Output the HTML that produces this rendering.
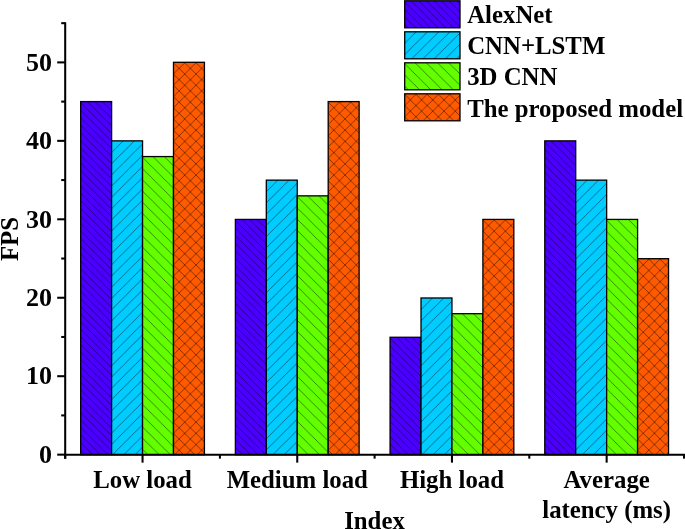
<!DOCTYPE html><html><head><meta charset="utf-8"><style>html,body{margin:0;padding:0;background:#fff;overflow:hidden}svg{display:block;will-change:transform}</style></head><body>
<svg width="685" height="529" viewBox="0 0 685 529">
<defs>
<pattern id="p1" patternUnits="userSpaceOnUse" width="7.555" height="7.555" x="80.67" y="102.58"><rect width="7.555" height="7.555" fill="#4B00FF"/><path d="M-3.7775,-3.7775 L11.3325,11.3325 M-3.7775,3.7775 L3.7775,11.3325 M3.7775,-3.7775 L11.3325,3.7775" stroke="#000" stroke-opacity="0.55" stroke-width="0.85" fill="none"/></pattern>
<pattern id="p2" patternUnits="userSpaceOnUse" width="11.23" height="11.23" x="111.61" y="141.16"><rect width="11.23" height="11.23" fill="#00CCFF"/><path d="M16.845,-5.615 L-5.615,16.845 M5.615,-5.615 L-5.615,5.615 M16.845,5.615 L5.615,16.845" stroke="#000" stroke-opacity="0.55" stroke-width="0.85" fill="none"/></pattern>
<pattern id="p3" patternUnits="userSpaceOnUse" width="11.23" height="11.23" x="142.55" y="157.42"><rect width="11.23" height="11.23" fill="#63FF00"/><path d="M-5.615,-5.615 L16.845,16.845 M-5.615,5.615 L5.615,16.845 M5.615,-5.615 L16.845,5.615" stroke="#000" stroke-opacity="0.55" stroke-width="0.85" fill="none"/></pattern>
<pattern id="p4" patternUnits="userSpaceOnUse" width="11.23" height="11.23" x="173.49" y="62.80"><rect width="11.23" height="11.23" fill="#FF5A00"/><path d="M-5.615,-5.615 L16.845,16.845 M-5.615,5.615 L5.615,16.845 M5.615,-5.615 L16.845,5.615" stroke="#000" stroke-opacity="0.55" stroke-width="0.85" fill="none"/><path d="M16.845,-5.615 L-5.615,16.845 M5.615,-5.615 L-5.615,5.615 M16.845,5.615 L5.615,16.845" stroke="#000" stroke-opacity="0.55" stroke-width="0.85" fill="none"/></pattern>
<pattern id="p5" patternUnits="userSpaceOnUse" width="7.555" height="7.555" x="235.37" y="220.42"><rect width="7.555" height="7.555" fill="#4B00FF"/><path d="M-3.7775,-3.7775 L11.3325,11.3325 M-3.7775,3.7775 L3.7775,11.3325 M3.7775,-3.7775 L11.3325,3.7775" stroke="#000" stroke-opacity="0.55" stroke-width="0.85" fill="none"/></pattern>
<pattern id="p6" patternUnits="userSpaceOnUse" width="11.23" height="11.23" x="266.31" y="180.44"><rect width="11.23" height="11.23" fill="#00CCFF"/><path d="M16.845,-5.615 L-5.615,16.845 M5.615,-5.615 L-5.615,5.615 M16.845,5.615 L5.615,16.845" stroke="#000" stroke-opacity="0.55" stroke-width="0.85" fill="none"/></pattern>
<pattern id="p7" patternUnits="userSpaceOnUse" width="11.23" height="11.23" x="297.25" y="196.70"><rect width="11.23" height="11.23" fill="#63FF00"/><path d="M-5.615,-5.615 L16.845,16.845 M-5.615,5.615 L5.615,16.845 M5.615,-5.615 L16.845,5.615" stroke="#000" stroke-opacity="0.55" stroke-width="0.85" fill="none"/></pattern>
<pattern id="p8" patternUnits="userSpaceOnUse" width="11.23" height="11.23" x="328.19" y="102.08"><rect width="11.23" height="11.23" fill="#FF5A00"/><path d="M-5.615,-5.615 L16.845,16.845 M-5.615,5.615 L5.615,16.845 M5.615,-5.615 L16.845,5.615" stroke="#000" stroke-opacity="0.55" stroke-width="0.85" fill="none"/><path d="M16.845,-5.615 L-5.615,16.845 M5.615,-5.615 L-5.615,5.615 M16.845,5.615 L5.615,16.845" stroke="#000" stroke-opacity="0.55" stroke-width="0.85" fill="none"/></pattern>
<pattern id="p9" patternUnits="userSpaceOnUse" width="7.555" height="7.555" x="390.07" y="338.26"><rect width="7.555" height="7.555" fill="#4B00FF"/><path d="M-3.7775,-3.7775 L11.3325,11.3325 M-3.7775,3.7775 L3.7775,11.3325 M3.7775,-3.7775 L11.3325,3.7775" stroke="#000" stroke-opacity="0.55" stroke-width="0.85" fill="none"/></pattern>
<pattern id="p10" patternUnits="userSpaceOnUse" width="11.23" height="11.23" x="421.01" y="298.28"><rect width="11.23" height="11.23" fill="#00CCFF"/><path d="M16.845,-5.615 L-5.615,16.845 M5.615,-5.615 L-5.615,5.615 M16.845,5.615 L5.615,16.845" stroke="#000" stroke-opacity="0.55" stroke-width="0.85" fill="none"/></pattern>
<pattern id="p11" patternUnits="userSpaceOnUse" width="11.23" height="11.23" x="451.95" y="314.54"><rect width="11.23" height="11.23" fill="#63FF00"/><path d="M-5.615,-5.615 L16.845,16.845 M-5.615,5.615 L5.615,16.845 M5.615,-5.615 L16.845,5.615" stroke="#000" stroke-opacity="0.55" stroke-width="0.85" fill="none"/></pattern>
<pattern id="p12" patternUnits="userSpaceOnUse" width="11.23" height="11.23" x="482.89" y="219.92"><rect width="11.23" height="11.23" fill="#FF5A00"/><path d="M-5.615,-5.615 L16.845,16.845 M-5.615,5.615 L5.615,16.845 M5.615,-5.615 L16.845,5.615" stroke="#000" stroke-opacity="0.55" stroke-width="0.85" fill="none"/><path d="M16.845,-5.615 L-5.615,16.845 M5.615,-5.615 L-5.615,5.615 M16.845,5.615 L5.615,16.845" stroke="#000" stroke-opacity="0.55" stroke-width="0.85" fill="none"/></pattern>
<pattern id="p13" patternUnits="userSpaceOnUse" width="7.555" height="7.555" x="544.77" y="141.86"><rect width="7.555" height="7.555" fill="#4B00FF"/><path d="M-3.7775,-3.7775 L11.3325,11.3325 M-3.7775,3.7775 L3.7775,11.3325 M3.7775,-3.7775 L11.3325,3.7775" stroke="#000" stroke-opacity="0.55" stroke-width="0.85" fill="none"/></pattern>
<pattern id="p14" patternUnits="userSpaceOnUse" width="11.23" height="11.23" x="575.71" y="180.44"><rect width="11.23" height="11.23" fill="#00CCFF"/><path d="M16.845,-5.615 L-5.615,16.845 M5.615,-5.615 L-5.615,5.615 M16.845,5.615 L5.615,16.845" stroke="#000" stroke-opacity="0.55" stroke-width="0.85" fill="none"/></pattern>
<pattern id="p15" patternUnits="userSpaceOnUse" width="11.23" height="11.23" x="606.65" y="220.27"><rect width="11.23" height="11.23" fill="#63FF00"/><path d="M-5.615,-5.615 L16.845,16.845 M-5.615,5.615 L5.615,16.845 M5.615,-5.615 L16.845,5.615" stroke="#000" stroke-opacity="0.55" stroke-width="0.85" fill="none"/></pattern>
<pattern id="p16" patternUnits="userSpaceOnUse" width="11.23" height="11.23" x="637.59" y="259.20"><rect width="11.23" height="11.23" fill="#FF5A00"/><path d="M-5.615,-5.615 L16.845,16.845 M-5.615,5.615 L5.615,16.845 M5.615,-5.615 L16.845,5.615" stroke="#000" stroke-opacity="0.55" stroke-width="0.85" fill="none"/><path d="M16.845,-5.615 L-5.615,16.845 M5.615,-5.615 L-5.615,5.615 M16.845,5.615 L5.615,16.845" stroke="#000" stroke-opacity="0.55" stroke-width="0.85" fill="none"/></pattern>
<pattern id="p17" patternUnits="userSpaceOnUse" width="7.555" height="7.555" x="404.70" y="1.80"><rect width="7.555" height="7.555" fill="#4B00FF"/><path d="M-3.7775,-3.7775 L11.3325,11.3325 M-3.7775,3.7775 L3.7775,11.3325 M3.7775,-3.7775 L11.3325,3.7775" stroke="#000" stroke-opacity="0.55" stroke-width="0.85" fill="none"/></pattern>
<pattern id="p18" patternUnits="userSpaceOnUse" width="11.23" height="11.23" x="404.70" y="32.10"><rect width="11.23" height="11.23" fill="#00CCFF"/><path d="M16.845,-5.615 L-5.615,16.845 M5.615,-5.615 L-5.615,5.615 M16.845,5.615 L5.615,16.845" stroke="#000" stroke-opacity="0.55" stroke-width="0.85" fill="none"/></pattern>
<pattern id="p19" patternUnits="userSpaceOnUse" width="11.23" height="11.23" x="404.70" y="63.65"><rect width="11.23" height="11.23" fill="#63FF00"/><path d="M-5.615,-5.615 L16.845,16.845 M-5.615,5.615 L5.615,16.845 M5.615,-5.615 L16.845,5.615" stroke="#000" stroke-opacity="0.55" stroke-width="0.85" fill="none"/></pattern>
<pattern id="p20" patternUnits="userSpaceOnUse" width="11.23" height="11.23" x="404.70" y="94.30"><rect width="11.23" height="11.23" fill="#FF5A00"/><path d="M-5.615,-5.615 L16.845,16.845 M-5.615,5.615 L5.615,16.845 M5.615,-5.615 L16.845,5.615" stroke="#000" stroke-opacity="0.55" stroke-width="0.85" fill="none"/><path d="M16.845,-5.615 L-5.615,16.845 M5.615,-5.615 L-5.615,5.615 M16.845,5.615 L5.615,16.845" stroke="#000" stroke-opacity="0.55" stroke-width="0.85" fill="none"/></pattern>
</defs>
<rect x="80.67" y="101.58" width="30.94" height="353.07" fill="url(#p1)" stroke="#000" stroke-width="1.3"/>
<rect x="111.61" y="140.86" width="30.94" height="313.79" fill="url(#p2)" stroke="#000" stroke-width="1.3"/>
<rect x="142.55" y="156.57" width="30.94" height="298.08" fill="url(#p3)" stroke="#000" stroke-width="1.3"/>
<rect x="173.49" y="62.30" width="30.94" height="392.35" fill="url(#p4)" stroke="#000" stroke-width="1.3"/>
<rect x="235.37" y="219.42" width="30.94" height="235.23" fill="url(#p5)" stroke="#000" stroke-width="1.3"/>
<rect x="266.31" y="180.14" width="30.94" height="274.51" fill="url(#p6)" stroke="#000" stroke-width="1.3"/>
<rect x="297.25" y="195.85" width="30.94" height="258.80" fill="url(#p7)" stroke="#000" stroke-width="1.3"/>
<rect x="328.19" y="101.58" width="30.94" height="353.07" fill="url(#p8)" stroke="#000" stroke-width="1.3"/>
<rect x="390.07" y="337.26" width="30.94" height="117.39" fill="url(#p9)" stroke="#000" stroke-width="1.3"/>
<rect x="421.01" y="297.98" width="30.94" height="156.67" fill="url(#p10)" stroke="#000" stroke-width="1.3"/>
<rect x="451.95" y="313.69" width="30.94" height="140.96" fill="url(#p11)" stroke="#000" stroke-width="1.3"/>
<rect x="482.89" y="219.42" width="30.94" height="235.23" fill="url(#p12)" stroke="#000" stroke-width="1.3"/>
<rect x="544.77" y="140.86" width="30.94" height="313.79" fill="url(#p13)" stroke="#000" stroke-width="1.3"/>
<rect x="575.71" y="180.14" width="30.94" height="274.51" fill="url(#p14)" stroke="#000" stroke-width="1.3"/>
<rect x="606.65" y="219.42" width="30.94" height="235.23" fill="url(#p15)" stroke="#000" stroke-width="1.3"/>
<rect x="637.59" y="258.70" width="30.94" height="195.95" fill="url(#p16)" stroke="#000" stroke-width="1.3"/>
<line x1="65.2" y1="22.35" x2="65.2" y2="458.65" stroke="#000" stroke-width="2.05"/>
<line x1="64.17" y1="454.65" x2="686.00" y2="454.65" stroke="#000" stroke-width="2.05"/>
<line x1="57.20" y1="454.65" x2="65.2" y2="454.65" stroke="#000" stroke-width="2.05"/>
<line x1="61.20" y1="415.42" x2="65.2" y2="415.42" stroke="#000" stroke-width="2.05"/>
<line x1="57.20" y1="376.20" x2="65.2" y2="376.20" stroke="#000" stroke-width="2.05"/>
<line x1="61.20" y1="336.97" x2="65.2" y2="336.97" stroke="#000" stroke-width="2.05"/>
<line x1="57.20" y1="297.75" x2="65.2" y2="297.75" stroke="#000" stroke-width="2.05"/>
<line x1="61.20" y1="258.52" x2="65.2" y2="258.52" stroke="#000" stroke-width="2.05"/>
<line x1="57.20" y1="219.30" x2="65.2" y2="219.30" stroke="#000" stroke-width="2.05"/>
<line x1="61.20" y1="180.07" x2="65.2" y2="180.07" stroke="#000" stroke-width="2.05"/>
<line x1="57.20" y1="140.85" x2="65.2" y2="140.85" stroke="#000" stroke-width="2.05"/>
<line x1="61.20" y1="101.62" x2="65.2" y2="101.62" stroke="#000" stroke-width="2.05"/>
<line x1="57.20" y1="62.40" x2="65.2" y2="62.40" stroke="#000" stroke-width="2.05"/>
<line x1="61.20" y1="23.18" x2="65.2" y2="23.18" stroke="#000" stroke-width="2.05"/>
<line x1="65.20" y1="454.65" x2="65.20" y2="458.65" stroke="#000" stroke-width="2.05"/>
<line x1="219.90" y1="454.65" x2="219.90" y2="458.65" stroke="#000" stroke-width="2.05"/>
<line x1="374.60" y1="454.65" x2="374.60" y2="458.65" stroke="#000" stroke-width="2.05"/>
<line x1="529.30" y1="454.65" x2="529.30" y2="458.65" stroke="#000" stroke-width="2.05"/>
<line x1="684.00" y1="454.65" x2="684.00" y2="458.65" stroke="#000" stroke-width="2.05"/>
<line x1="142.55" y1="454.65" x2="142.55" y2="462.65" stroke="#000" stroke-width="2.05"/>
<line x1="297.25" y1="454.65" x2="297.25" y2="462.65" stroke="#000" stroke-width="2.05"/>
<line x1="451.95" y1="454.65" x2="451.95" y2="462.65" stroke="#000" stroke-width="2.05"/>
<line x1="606.65" y1="454.65" x2="606.65" y2="462.65" stroke="#000" stroke-width="2.05"/>
<g font-family='"Liberation Serif", serif' font-weight="bold" font-size="24.8" fill="#000">
<text x="52.1" y="462.85" text-anchor="end" font-size="26">0</text>
<text x="52.1" y="384.40" text-anchor="end" font-size="26">10</text>
<text x="52.1" y="305.95" text-anchor="end" font-size="26">20</text>
<text x="52.1" y="227.50" text-anchor="end" font-size="26">30</text>
<text x="52.1" y="149.05" text-anchor="end" font-size="26">40</text>
<text x="52.1" y="70.60" text-anchor="end" font-size="26">50</text>
<text x="142.55" y="487.70" text-anchor="middle">Low load</text>
<text x="297.25" y="487.70" text-anchor="middle">Medium load</text>
<text x="451.95" y="487.70" text-anchor="middle">High load</text>
<text x="606.65" y="487.70" text-anchor="middle">Average</text>
<text x="606.65" y="517.70" text-anchor="middle">latency (ms)</text>
<text x="374.5" y="529" text-anchor="middle">Index</text>
<text transform="translate(17.7,239) rotate(-90)" text-anchor="middle">FPS</text>
<rect x="404.7" y="0.80" width="55.3" height="27.0" fill="url(#p17)" stroke="#000" stroke-width="1.3"/>
<text x="467.2" y="22.8" font-size="24.8">AlexNet</text>
<rect x="404.7" y="31.80" width="55.3" height="27.0" fill="url(#p18)" stroke="#000" stroke-width="1.3"/>
<text x="467.2" y="53.7" font-size="24.8">CNN+LSTM</text>
<rect x="404.7" y="62.80" width="55.3" height="27.0" fill="url(#p19)" stroke="#000" stroke-width="1.3"/>
<text x="467.2" y="84.6" font-size="24.8">3D CNN</text>
<rect x="404.7" y="93.80" width="55.3" height="27.0" fill="url(#p20)" stroke="#000" stroke-width="1.3"/>
<text x="467.2" y="116.6" font-size="24.8">The proposed model</text>
</g>
</svg></body></html>
